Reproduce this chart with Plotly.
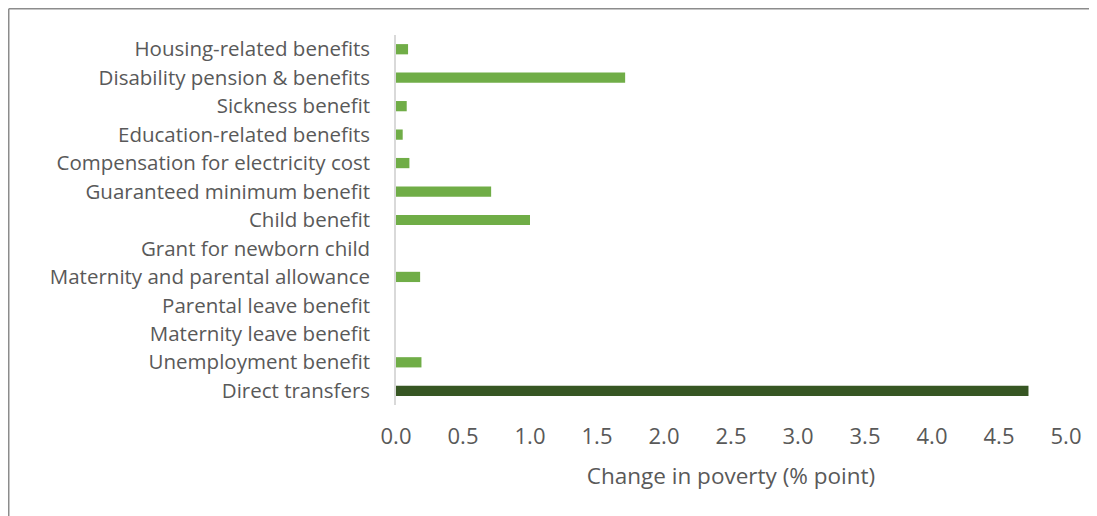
import plotly.graph_objects as go

# categories listed bottom to top (plotly puts the first category at the bottom)
categories = [
    "Direct transfers",
    "Unemployment benefit",
    "Maternity leave benefit",
    "Parental leave benefit",
    "Maternity and parental allowance",
    "Grant for newborn child",
    "Child benefit",
    "Guaranteed minimum benefit",
    "Compensation for electricity cost",
    "Education-related benefits",
    "Sickness benefit",
    "Disability pension & benefits",
    "Housing-related benefits",
]
change = [4.72, 0.19, 0.0, 0.0, 0.18, 0.0, 1.0, 0.71, 0.10, 0.05, 0.08, 1.71, 0.09]
bar_colors = ["#375623"] + ["#70AD47"] * 12

x_ticks = [0, 0.5, 1, 1.5, 2, 2.5, 3, 3.5, 4, 4.5, 5]
x_ticklabels = ["0.0", "0.5", "1.0", "1.5", "2.0", "2.5", "3.0", "3.5", "4.0", "4.5", "5.0"]

font_family = "Open Sans"
text_color = "#595959"

fig = go.Figure()
fig.add_trace(go.Bar(
    y=categories,
    x=change,
    orientation="h",
    marker=dict(color=bar_colors, line=dict(width=0)),
    hovertemplate="%{y}: %{x:.2f}<extra></extra>",
))

fig.update_layout(
    width=1097,
    height=516,
    margin=dict(l=388, r=39, t=27, b=119),
    paper_bgcolor="white",
    plot_bgcolor="white",
    bargap=0.64,
    showlegend=False,
    font=dict(family=font_family, size=20.5, color=text_color),
    xaxis=dict(
        range=[0, 5],
        tickvals=x_ticks,
        ticktext=x_ticklabels,
        tickfont=dict(size=22),
        showgrid=False,
        zeroline=False,
        showline=False,
        ticks="outside",
        ticklen=12,
        tickcolor="white",
        title=dict(text="Change in poverty (% point)", standoff=18,
                   font=dict(family=font_family, size=22.5, color=text_color)),
        fixedrange=True,
    ),
    yaxis=dict(
        showgrid=False,
        zeroline=False,
        showline=True,
        linecolor="#d9d9d9",
        linewidth=1.5,
        ticks="outside",
        ticklen=20,
        tickcolor="white",
        fixedrange=True,
    ),
)

# outer frame of the exported figure (top and left edges are visible)
fig.add_shape(type="line", xref="paper", yref="paper",
              x0=-0.578, x1=1.1, y0=1.0709, y1=1.0709,
              line=dict(color="#8c8c8c", width=1.5))
fig.add_shape(type="line", xref="paper", yref="paper",
              x0=-0.578, x1=-0.578, y0=1.0709, y1=-0.35,
              line=dict(color="#8c8c8c", width=1.5))

fig.write_html("out.html")
